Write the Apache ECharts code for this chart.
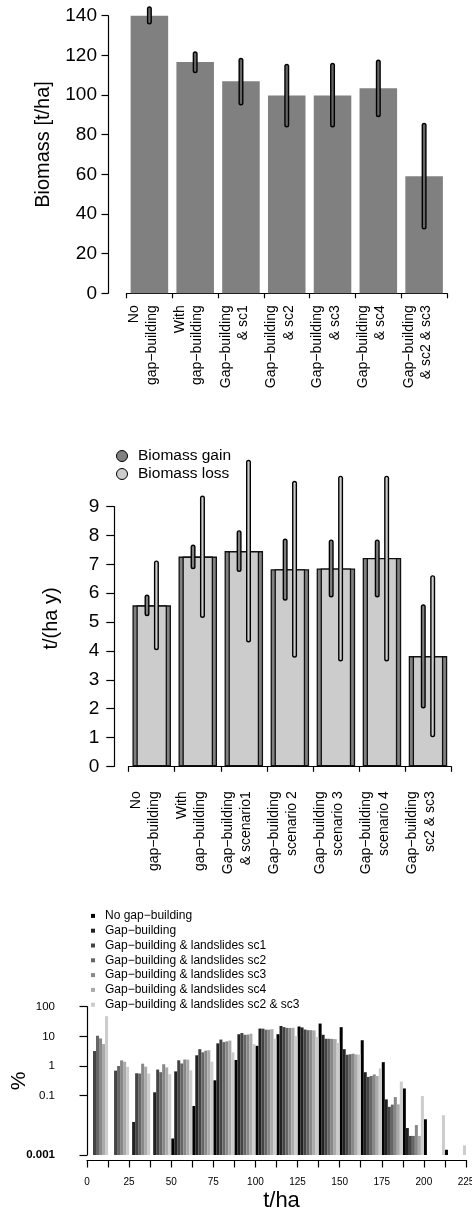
<!DOCTYPE html>
<html>
<head>
<meta charset="utf-8">
<script src="https://cdn.jsdelivr.net/npm/echarts@6/dist/echarts.min.js"></script>
<style>
  html, body { margin: 0; padding: 0; background: #fff; }
  #main { width: 472px; height: 1223px; }
</style>
</head>
<body>
<div id="main"></div>
<script>
// ---- panel 1: standing biomass ----
var biomassCats = ['No\ngap\u2212building', 'With\ngap\u2212building', 'Gap\u2212building\n& sc1',
  'Gap\u2212building\n& sc2', 'Gap\u2212building\n& sc3', 'Gap\u2212building\n& sc4', 'Gap\u2212building\n& sc2 & sc3']
var biomassMean = [140, 116.6, 106.9, 99.7, 99.8, 103.4, 59.0]
var biomassLow = [136.8, 112.3, 96.0, 84.9, 84.9, 90.1, 33.4]
var biomassHigh = [143.5, 120.8, 117.5, 114.5, 115.0, 116.6, 84.7]

// ---- panel 2: gain / loss ----
var fluxCats = ['No\ngap\u2212building', 'With\ngap\u2212building', 'Gap\u2212building\n& scenario1',
  'Gap\u2212building\nscenario 2', 'Gap\u2212building\nscenario 3', 'Gap\u2212building\nscenario 4', 'Gap\u2212building\nsc2 & sc3']
var gainMean = [5.58, 7.27, 7.46, 6.83, 6.86, 7.22, 3.82]
var lossMean = [5.58, 7.27, 7.46, 6.83, 6.86, 7.22, 3.82]
var gainLow = [5.29, 6.92, 6.82, 5.83, 5.94, 5.94, 2.09]
var gainHigh = [5.87, 7.60, 8.10, 7.81, 7.78, 7.78, 5.53]
var lossLow = [4.11, 5.23, 4.38, 3.85, 3.72, 3.72, 1.09]
var lossHigh = [7.05, 9.30, 10.54, 9.81, 9.99, 9.99, 6.54]

// ---- panel 3: biomass distribution (% per 12.5 t/ha class) ----
var histBins = ['0', '12.5', '25', '37.5', '50', '62.5', '75', '87.5', '100', '112.5',
  '125', '137.5', '150', '162.5', '175', '187.5', '200', '212.5']
var histNames = ['No gap\u2212building', 'Gap\u2212building', 'Gap\u2212building & landslides sc1',
  'Gap\u2212building & landslides sc2', 'Gap\u2212building & landslides sc3',
  'Gap\u2212building & landslides sc4', 'Gap\u2212building & landslides sc2 & sc3']
var histNoGap = [0, 0, 0, 0, 0.0036, 0.045, 0.33, 1.6, 4.8, 11.8, 21.5, 27, 20.4, 7.4, 1.35, 0.175, 0.016, 0.0015]
var histGap = [0, 0, 0.013, 0.13, 0.66, 2.3, 5.8, 11.8, 18.3, 22.4, 20, 11.3, 3.7, 0.62, 0.075, 0.0081, 0, 0]
var histSc1 = [3.2, 0.7, 0.57, 0.76, 1.56, 3.7, 7.8, 13, 18.2, 20.5, 17, 8.3, 2.4, 0.43, 0.042, 0.0044, 0, 0]
var histSc2 = [10.5, 1.0, 0.56, 0.62, 1.22, 2.9, 6.4, 11.3, 16.8, 19.3, 16.2, 8.3, 2.5, 0.46, 0.05, 0.0044, 0, 0]
var histSc3 = [8.5, 1.55, 1.2, 1.15, 1.66, 3.3, 6.8, 11.5, 16.8, 19.2, 16.2, 8.2, 2.6, 0.52, 0.09, 0.0102, 0, 0]
var histSc4 = [5.5, 1.4, 0.95, 0.9, 1.64, 3.4, 7.2, 12.3, 17.5, 19.5, 15.8, 8.1, 2.45, 0.46, 0.051, 0.0044, 0, 0]
var histSc23 = [48, 0.94, 0.56, 0.53, 0.72, 1.4, 2.9, 5.5, 8.3, 10.2, 9.5, 6, 2.45, 0.83, 0.30, 0.097, 0.022, 0.0021]
var histYLabels = [0.001, 0.1, 1, 10, 100]

var histSeries = [histNoGap, histGap, histSc1, histSc2, histSc3, histSc4, histSc23]
var histColors = ['#000000', '#222222', '#444444', '#666666', '#888888', '#aaaaaa', '#cccccc']

var FONT = 'Liberation Sans, Arial, Helvetica, sans-serif'
var LOGMIN = 0.001

var chart = echarts.init(document.getElementById('main'), null, { renderer: 'canvas' })

function axisLine() {
  return { show: true, lineStyle: { color: '#000', width: 1.2 } }
}

// trailing short line nudges the rotated two-line label block to the left, like R's mtext
function catLabel(v) {
  return v + '\n{s| }'
}

function errRender(dx, fill) {
  return function (params, api) {
    var i = api.value(0)
    var p1 = api.coord([i, api.value(1)])
    var p2 = api.coord([i, api.value(2)])
    var shape = { x1: p1[0] + dx, y1: p1[1], x2: p2[0] + dx, y2: p2[1] }
    return {
      type: 'group',
      children: [
        { type: 'line', shape: shape, style: { stroke: '#000', lineWidth: 5, lineCap: 'round' } },
        { type: 'line', shape: shape, style: { stroke: fill, lineWidth: 2.2, lineCap: 'round' } }
      ]
    }
  }
}

function histRender(k) {
  return function (params, api) {
    var v = api.value(1)
    if (!(v > 0)) return null
    var top = api.coord([api.value(0), v])
    var base = api.coord([api.value(0), LOGMIN])
    var w = api.size([1, 1])[0] / 7
    return {
      type: 'rect',
      shape: { x: top[0] - 3.5 * w + k * w, y: top[1], width: w, height: base[1] - top[1] },
      style: { fill: histColors[k] }
    }
  }
}

var series = [
  {
    name: 'biomass', type: 'bar', xAxisIndex: 0, yAxisIndex: 0, z: 2,
    barWidth: '82%', itemStyle: { color: '#808080' },
    data: biomassMean
  },
  {
    name: 'biomass sd', type: 'custom', xAxisIndex: 0, yAxisIndex: 0, z: 5,
    renderItem: errRender(0, '#666666'),
    encode: { x: 0, y: [1, 2] },
    data: biomassLow.map(function (v, i) { return [i, v, biomassHigh[i]] })
  },
  {
    name: 'Biomass gain', type: 'bar', xAxisIndex: 1, yAxisIndex: 1, z: 2,
    barWidth: 38.5, itemStyle: { color: '#808080', borderColor: '#111', borderWidth: 1.3 },
    data: gainMean
  },
  {
    name: 'Biomass loss', type: 'bar', xAxisIndex: 2, yAxisIndex: 1, z: 3,
    barWidth: 30.5, itemStyle: { color: '#cccccc', borderColor: '#111', borderWidth: 1.3 },
    data: lossMean
  },
  {
    name: 'gain sd', type: 'custom', xAxisIndex: 1, yAxisIndex: 1, z: 5,
    renderItem: errRender(-4.7, '#808080'),
    encode: { x: 0, y: [1, 2] },
    data: gainLow.map(function (v, i) { return [i, v, gainHigh[i]] })
  },
  {
    name: 'loss sd', type: 'custom', xAxisIndex: 1, yAxisIndex: 1, z: 6,
    renderItem: errRender(4.7, '#cccccc'),
    encode: { x: 0, y: [1, 2] },
    data: lossLow.map(function (v, i) { return [i, v, lossHigh[i]] })
  }
]

histSeries.forEach(function (arr, k) {
  series.push({
    name: histNames[k], type: 'custom', xAxisIndex: 3, yAxisIndex: 2,
    itemStyle: { color: histColors[k] },
    renderItem: histRender(k),
    encode: { x: 0, y: 1 },
    data: arr.map(function (v, i) { return [i, v] })
  })
})

var option = {
  animation: false,
  backgroundColor: '#fff',
  textStyle: { fontFamily: FONT, color: '#000' },
  grid: [
    { left: 126.5, right: 25, top: 15.7, height: 277.6, outerBoundsMode: 'none', containLabel: false },
    { left: 128.7, right: 21, top: 506.7, height: 259.6, outerBoundsMode: 'none', containLabel: false },
    { left: 87, right: 6, top: 1006.7, height: 148.3, outerBoundsMode: 'none', containLabel: false }
  ],
  legend: [
    {
      orient: 'vertical', left: 116, top: 447, padding: 0,
      data: [{ name: 'Biomass gain', icon: 'circle' }, { name: 'Biomass loss', icon: 'circle' }],
      itemWidth: 12, itemHeight: 11, itemGap: 0,
      itemStyle: { borderColor: '#000', borderWidth: 1 },
      textStyle: { fontFamily: FONT, fontSize: 15.5, color: '#000', lineHeight: 18, padding: [0, 0, 0, 5] },
      selectedMode: false
    },
    {
      orient: 'vertical', left: 91, top: 908.5, padding: 0,
      data: histNames.map(function (n) { return { name: n, icon: 'rect' } }),
      itemWidth: 4, itemHeight: 4, itemGap: 0,
      itemStyle: { borderWidth: 0 },
      textStyle: { fontFamily: FONT, fontSize: 12, color: '#000', lineHeight: 14.8, padding: [0, 0, 0, 5] },
      selectedMode: false
    }
  ],
  xAxis: [
    {
      type: 'category', gridIndex: 0, position: 'bottom', data: biomassCats, offset: 1,
      axisLine: axisLine(),
      axisTick: { show: true, length: 5, lineStyle: { color: '#000', width: 1.2 } },
      axisLabel: { rotate: 90, interval: 0, margin: 11, fontSize: 14, lineHeight: 17.5, color: '#000',
        fontFamily: FONT, formatter: catLabel, rich: { s: { fontSize: 2, lineHeight: 13 } } }
    },
    {
      type: 'category', gridIndex: 1, position: 'bottom', data: fluxCats, offset: 14,
      axisLine: axisLine(),
      axisTick: { show: true, length: 5.5, lineStyle: { color: '#000', width: 1.2 } },
      axisLabel: { rotate: 90, interval: 0, margin: 11, fontSize: 14, lineHeight: 18, color: '#000',
        fontFamily: FONT, formatter: catLabel, rich: { s: { fontSize: 2, lineHeight: 13.6 } } }
    },
    { type: 'category', gridIndex: 1, position: 'bottom', data: fluxCats, show: false },
    { type: 'category', gridIndex: 2, position: 'bottom', data: histBins, show: false },
    {
      type: 'value', gridIndex: 2, position: 'bottom', min: 0, max: 225, interval: 12.5, offset: 5,
      name: 't/ha', nameLocation: 'middle', nameGap: 30, nameMoveOverlap: false,
      nameTextStyle: { fontSize: 22, color: '#000', fontFamily: FONT, padding: [0, 0, 0, 10] },
      axisLine: axisLine(),
      axisTick: { show: true, length: 7.5, lineStyle: { color: '#000', width: 1.2 } },
      splitLine: { show: false },
      axisLabel: {
        margin: 17, fontSize: 10, color: '#000', fontFamily: FONT, showMaxLabel: true,
        formatter: function (v) { return v % 25 === 0 ? String(v) : '' }
      }
    }
  ],
  yAxis: [
    {
      type: 'value', gridIndex: 0, min: 0, max: 140, interval: 20, offset: 18.5,
      name: 'Biomass [t/ha]', nameLocation: 'middle', nameGap: 55, nameMoveOverlap: false,
      nameTextStyle: { fontSize: 20, color: '#000', fontFamily: FONT, padding: [0, 0, 0, 20] },
      axisLine: axisLine(),
      axisTick: { show: true, length: 6.5, lineStyle: { color: '#000', width: 1.2 } },
      splitLine: { show: false },
      axisLabel: { margin: 11, fontSize: 19, color: '#000', fontFamily: FONT }
    },
    {
      type: 'value', gridIndex: 1, min: 0, max: 9, interval: 1, offset: 14.4,
      name: 't/(ha y)', nameLocation: 'middle', nameGap: 53, nameMoveOverlap: false,
      nameTextStyle: { fontSize: 20, color: '#000', fontFamily: FONT, padding: [0, 0, 0, 36] },
      axisLine: axisLine(),
      axisTick: { show: true, length: 8, lineStyle: { color: '#000', width: 1.2 } },
      splitLine: { show: false },
      axisLabel: { margin: 15, fontSize: 19, color: '#000', fontFamily: FONT }
    },
    {
      type: 'log', gridIndex: 2, logBase: 10, min: LOGMIN, max: 100, offset: 16,
      name: '%', nameLocation: 'middle', nameGap: 41, nameMoveOverlap: false,
      nameTextStyle: { fontSize: 21, color: '#000', fontFamily: FONT },
      axisLine: axisLine(),
      axisTick: { show: true, length: 7.5, customValues: histYLabels, lineStyle: { color: '#000', width: 1.2 } },
      splitLine: { show: false },
      axisLabel: {
        margin: 16, fontSize: 11.5, color: '#000', fontFamily: FONT, customValues: histYLabels,
        formatter: function (v) { return v === LOGMIN ? '{b|0.001}' : String(v) },
        rich: { b: { fontSize: 11.5, fontWeight: 'bold', fontFamily: FONT, color: '#000' } }
      }
    }
  ],
  series: series
}

chart.setOption(option)
</script>
</body>
</html>
